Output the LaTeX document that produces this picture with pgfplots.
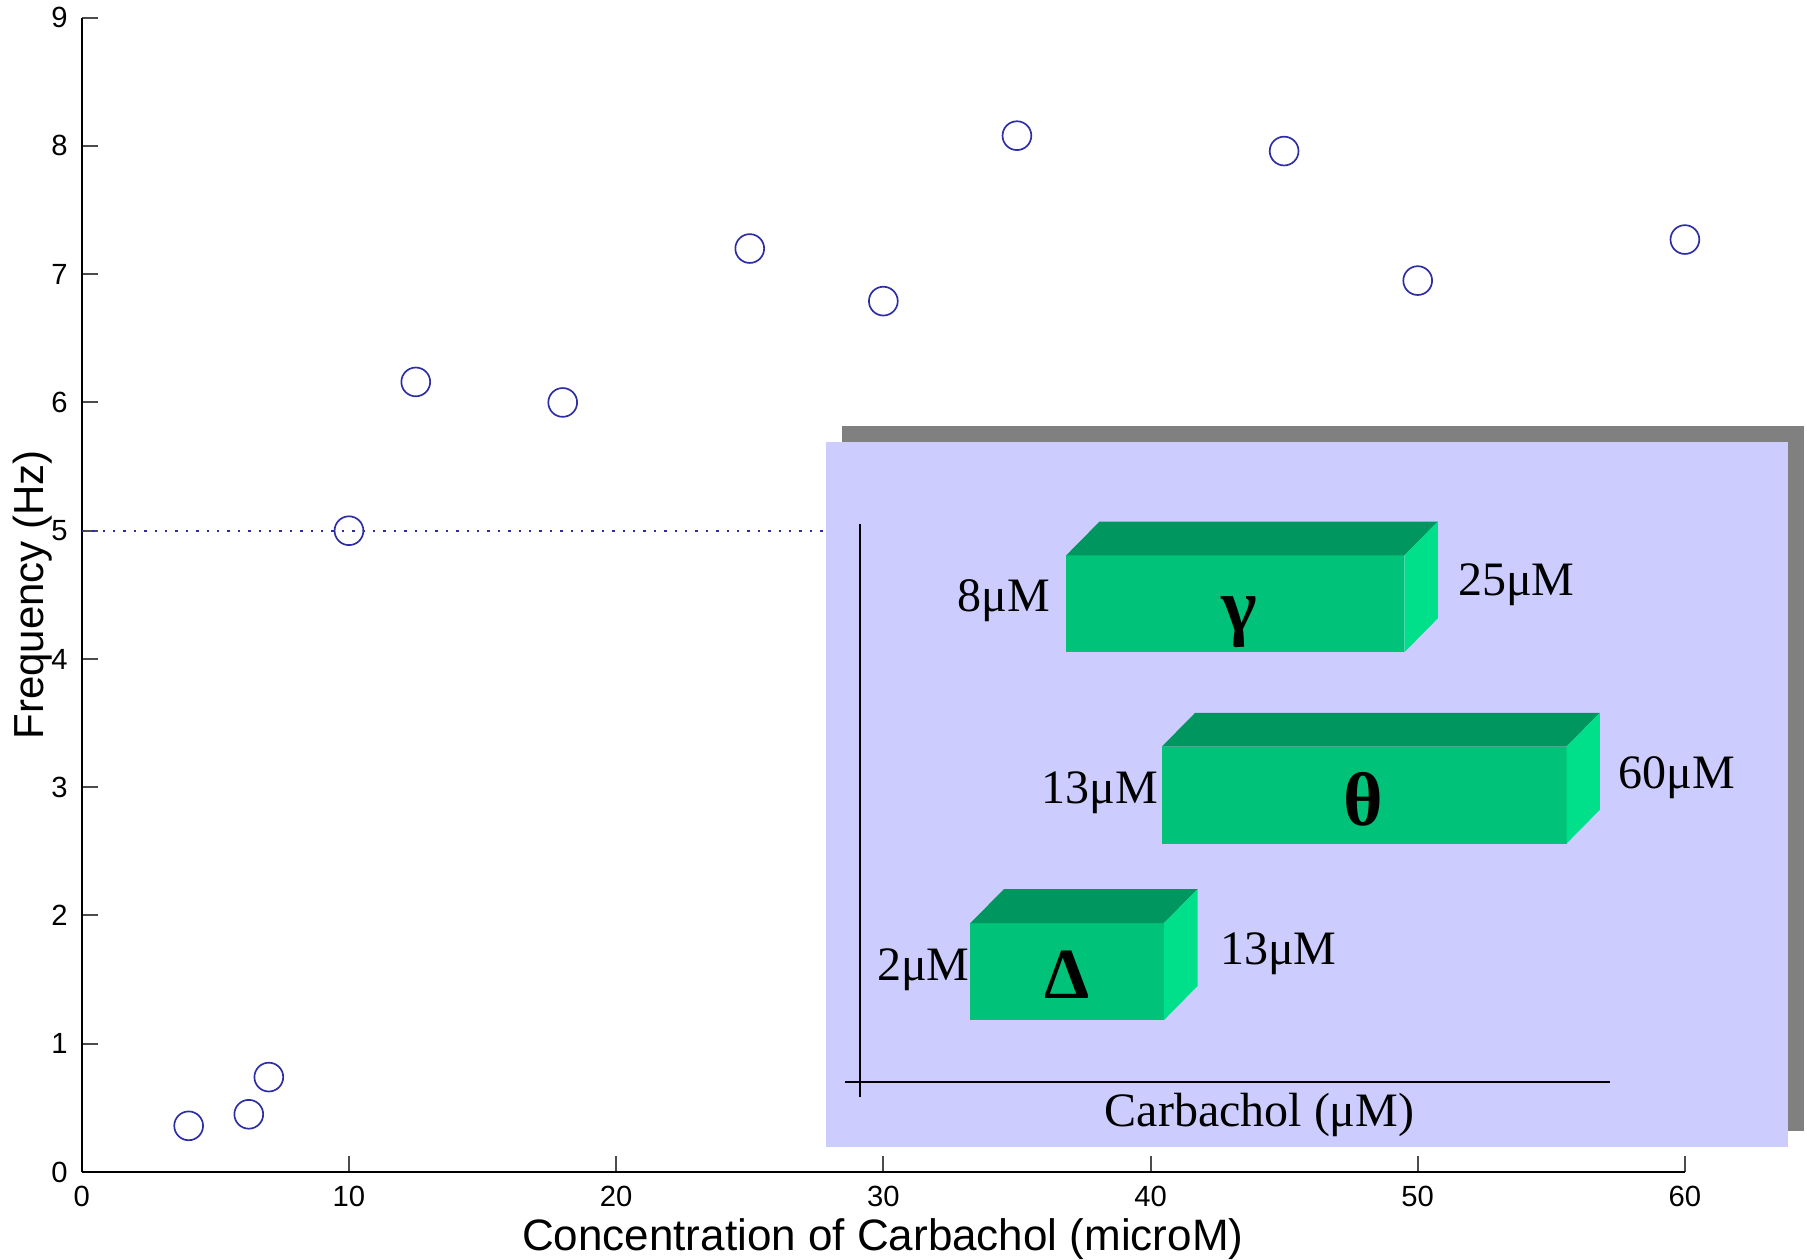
\documentclass[border=0pt]{standalone}
\usepackage{pgfplots}
\pgfplotsset{compat=1.18}
\usepackage{fontspec}
\setmainfont{Liberation Serif}
\setsansfont{Liberation Sans}
\definecolor{mk}{RGB}{45,45,165}
\definecolor{lav}{RGB}{204,204,255}
\definecolor{shad}{RGB}{128,128,128}
\definecolor{frontc}{RGB}{0,194,120}
\definecolor{topc}{RGB}{0,150,96}
\definecolor{sidec}{RGB}{0,224,138}
\begin{document}
\begin{tikzpicture}
\begin{axis}[
  scale only axis, width=400.8pt, height=288.6pt,
  xmin=0, xmax=60, ymin=0, ymax=9,
  axis x line=bottom, axis y line=left,
  axis line style={-, black, line width=0.5pt},
  xtick={0,10,...,60}, ytick={0,1,...,9},
  tick align=inside, major tick length=4pt,
  tick style={black!70, line width=0.5pt},
  ticklabel style={font=\sffamily\fontsize{7.3}{8}\selectfont},
  /pgf/number format/assume math mode=true,
  clip=false,
]
% data
\addplot[mk, dotted, line width=0.6pt] coordinates {(0,5) (60,5)};
\addplot[only marks, mark=o, mark size=3.6pt, mk, line width=0.42pt] coordinates {
 (4.0,0.36) (6.25,0.45) (7.0,0.74) (10,5.0) (12.5,6.16) (18,6.0)
 (25,7.2) (30,6.79) (35,8.08) (45,7.96) (50,6.95) (60,7.27)};
% inset background
\addplot[draw=none, fill=shad] coordinates {(28.47,0.323) (64.45,0.323) (64.45,5.814) (28.47,5.814)} -- cycle;
\addplot[draw=none, fill=lav] coordinates {(27.87,0.198) (63.85,0.198) (63.85,5.688) (27.87,5.688)} -- cycle;
% inset axes
\addplot[black, line width=0.6pt] coordinates {(29.12,0.584) (29.12,5.05)};
\addplot[black, line width=0.6pt] coordinates {(28.56,0.70) (57.2,0.70)};
% gamma box
\addplot[draw=none, fill=frontc] coordinates {(36.84,4.052) (49.5,4.052) (49.5,4.807) (36.84,4.807)} -- cycle;
\addplot[draw=none, fill=topc] coordinates {(36.84,4.807) (49.5,4.807) (50.75,5.071) (38.09,5.071)} -- cycle;
\addplot[draw=none, fill=sidec] coordinates {(49.5,4.052) (50.75,4.316) (50.75,5.071) (49.5,4.807)} -- cycle;
% theta box
\addplot[draw=none, fill=frontc] coordinates {(40.42,2.561) (55.57,2.561) (55.57,3.316) (40.42,3.316)} -- cycle;
\addplot[draw=none, fill=topc] coordinates {(40.42,3.316) (55.57,3.316) (56.82,3.58) (41.67,3.58)} -- cycle;
\addplot[draw=none, fill=sidec] coordinates {(55.57,2.561) (56.82,2.825) (56.82,3.58) (55.57,3.316)} -- cycle;
% delta box
\addplot[draw=none, fill=frontc] coordinates {(33.26,1.186) (40.51,1.186) (40.51,1.941) (33.26,1.941)} -- cycle;
\addplot[draw=none, fill=topc] coordinates {(33.26,1.941) (40.51,1.941) (41.76,2.205) (34.51,2.205)} -- cycle;
\addplot[draw=none, fill=sidec] coordinates {(40.51,1.186) (41.76,1.45) (41.76,2.205) (40.51,1.941)} -- cycle;
% greek letters
\node[font=\bfseries\fontsize{19}{20}\selectfont, inner sep=0] at (axis cs:43.31,4.286) {γ};
\node[font=\bfseries\fontsize{19}{20}\selectfont, inner sep=0] at (axis cs:47.96,2.902) {θ};
\node[font=\bfseries\fontsize{18}{20}\selectfont, inner sep=0] at (axis cs:36.89,1.536) {Δ};
% concentration labels
\begin{scope}[every node/.style={font=\fontsize{12}{14}\selectfont, inner sep=0}]
\node[anchor=base east] at (axis cs:36.27,4.367) {8μM};
\node[anchor=base west] at (axis cs:51.48,4.493) {25μM};
\node[anchor=base east] at (axis cs:40.30,2.870) {13μM};
\node[anchor=base west] at (axis cs:57.49,2.987) {60μM};
\node[anchor=base east] at (axis cs:33.26,1.495) {2μM};
\node[anchor=base west] at (axis cs:42.58,1.620) {13μM};
\node[anchor=base] at (axis cs:44.08,0.355) {Carbachol (μM)};
\end{scope}
% main axis labels
\node[font=\sffamily\fontsize{10.5}{12}\selectfont, rotate=90, inner sep=0] at (axis cs:-1.83,4.5) {Frequency (Hz)};
\node[font=\sffamily\fontsize{11}{12}\selectfont, anchor=base, inner sep=0] at (axis cs:29.98,-0.611) {Concentration of Carbachol (microM)};
\coordinate (bbSW) at (axis cs:-3.061,-0.686);
\coordinate (bbNE) at (axis cs:64.57,9.138);
\end{axis}
\pgfresetboundingbox
\path[use as bounding box] (bbSW) rectangle (bbNE);
\end{tikzpicture}
\end{document}
